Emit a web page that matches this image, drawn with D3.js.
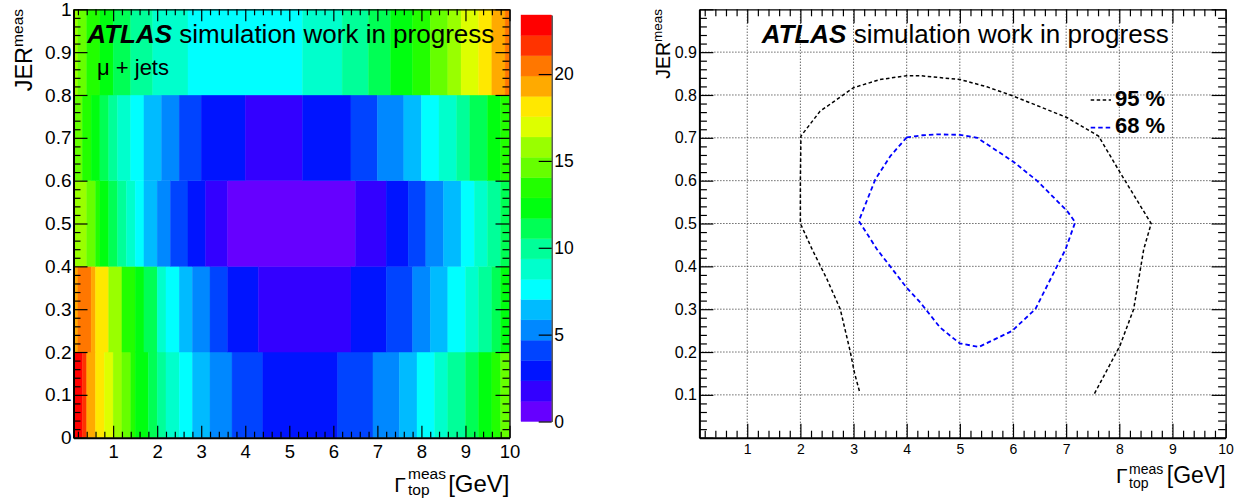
<!DOCTYPE html>
<html><head><meta charset="utf-8">
<script src="https://cdn.jsdelivr.net/npm/d3@7"></script>
<style>
body{margin:0;background:#fff}
svg{display:block}
text{font-family:"Liberation Sans",Arial,Helvetica,sans-serif;white-space:pre}
</style>
</head><body>
<svg id="c" width="1243" height="502"></svg>
<script>
// ---------------- data ----------------
const yBins = [0, 0.2, 0.4, 0.6, 0.8, 1.0];
// row y 0.0-0.2
const row0Edges = [0.1,0.3,0.4,0.6,0.8,1.0,1.2,1.4,1.5,1.8,2.0,2.2,2.5,2.8,3.2,3.7,4.4,6.1,6.9,7.5,7.9,8.3,8.6,9.0,9.3,9.6,9.8,10];
const row0Values = [22.8,21.6,19.3,18.1,17.0,15.8,14.6,13.5,12.3,11.1,9.9,8.8,7.6,6.4,5.3,4.1,2.9,4.1,5.3,6.4,7.6,8.8,9.9,11.1,12.3,13.5,14.6];
// row y 0.2-0.4
const row1Edges = [0.1,0.2,0.5,0.6,0.9,1.2,1.5,1.7,2.0,2.2,2.5,2.8,3.2,3.6,4.3,6.4,7.2,7.8,8.2,8.6,9.0,9.3,9.6,9.8,10];
const row1Values = [19.3,20.5,19.3,18.1,15.8,13.5,12.3,11.1,8.8,7.6,6.4,5.3,4.1,2.9,1.8,2.9,4.1,5.3,6.4,7.6,8.8,9.9,11.1,12.3];
// row y 0.4-0.6
const row2Edges = [0.1,0.4,0.6,0.7,0.9,1.1,1.3,1.5,1.7,2.0,2.3,2.7,3.1,3.6,6.5,7.2,7.7,8.1,8.5,8.9,9.2,9.5,9.8,10];
const row2Values = [15.8,14.6,13.5,12.3,11.1,9.9,8.8,7.6,6.4,5.3,4.1,2.9,1.8,0.6,1.8,2.9,4.1,5.3,6.4,7.6,8.8,9.9,11.1];
// row y 0.6-0.8
const row3Edges = [0.1,0.3,0.5,0.7,0.9,1.1,1.4,1.7,2.1,2.5,3.0,4.0,5.3,6.4,7.0,7.6,8.0,8.4,8.8,9.1,9.5,9.8,10];
const row3Values = [14.6,13.5,12.3,11.1,9.9,8.8,7.6,6.4,5.3,4.1,2.9,1.8,2.9,4.1,5.3,6.4,7.6,8.8,9.9,11.1,12.3,13.5];
// row y 0.8-1.0
const row4Edges = [0.1,0.2,0.4,0.7,1.0,1.4,1.9,2.7,5.3,6.2,6.8,7.3,7.8,8.2,8.6,8.9,9.3,9.6,9.9,10];
const row4Values = [15.8,14.6,13.5,12.3,11.1,9.9,8.8,7.6,8.8,9.9,11.1,12.3,13.5,14.6,15.8,17.0,18.1,19.3,20.5];

const zMax = 23.4;
const colorbarTicks = [0, 5, 10, 15, 20];
const palette = ["#6600ff","#3300ff","#0014ff","#0044ff","#0088ff","#00bbff","#00ffff","#00ffcc","#00ff99","#00ff55",
                 "#00ff10","#22ff00","#66ff00","#99ff00","#ddff00","#ffe800","#ffaa00","#ff7700","#ff3300","#ff0000"];

// contours (x = Gamma_top^meas, y = JER^meas)
const cont95X = [3.11,3.02,2.94,2.75,2.5,2.22,2.0,2.0,2.01,2.37,3.0,3.5,4.0,4.26,5.01,5.51,5.95,6.46,7.02,7.61,8.02,8.55,8.6,8.46,8.27,8.01,7.52];
const cont95Y = [0.109,0.15,0.2,0.30,0.37,0.44,0.5,0.6,0.704,0.762,0.817,0.836,0.845,0.845,0.836,0.819,0.80,0.775,0.747,0.704,0.618,0.51,0.5,0.44,0.30,0.214,0.10];
const cont68X = [4.0,3.69,3.41,3.1,3.44,4.0,4.26,4.63,5.0,5.36,5.98,6.42,6.99,7.17,7.02,6.46,6.02,5.33,5.0,4.57,4.3,4.0];
const cont68Y = [0.701,0.657,0.603,0.506,0.44,0.35,0.315,0.257,0.22,0.212,0.249,0.30,0.44,0.503,0.529,0.599,0.643,0.70,0.707,0.708,0.706,0.701];

const xMajorTicks = [1,2,3,4,5,6,7,8,9,10];
const yMajorTicksLeft = [0,0.1,0.2,0.3,0.4,0.5,0.6,0.7,0.8,0.9,1];
const yMajorTicksRight = [0.1,0.2,0.3,0.4,0.5,0.6,0.7,0.8,0.9];

// ---------------- drawing ----------------
const FONT = '"Liberation Sans", Arial, Helvetica, sans-serif';
const svg = d3.select("#c");
const rows = [
  {e: row0Edges, v: row0Values}, {e: row1Edges, v: row1Values}, {e: row2Edges, v: row2Values},
  {e: row3Edges, v: row3Values}, {e: row4Edges, v: row4Values}
];
const color = d3.scaleQuantize().domain([0, zMax]).range(palette);

const xMinor = d3.range(1, 50).map(i => i / 5).filter(v => Math.abs(v - Math.round(v)) > 1e-6);
const yMinor = d3.range(0, 51).map(i => i / 50).filter(v => Math.abs(v * 10 - Math.round(v * 10)) > 1e-6);
const yMajorAll = d3.range(0, 11).map(i => i / 10);

function frameAxes(g, x, y, cfg) {
  const [xa, xb] = x.range(), [ya, yb] = y.range();
  // bottom
  const b = g.append("g").attr("transform", `translate(0,${ya})`)
    .call(d3.axisBottom(x).tickValues(xMajorTicks).tickSize(-cfg.xMaj).tickSizeOuter(0).tickPadding(cfg.xPad).tickFormat(d3.format("d")));
  b.attr("font-family", FONT).attr("font-size", cfg.xFont);
  b.select(".domain").attr("stroke-width", 2);
  b.selectAll(".tick line").attr("stroke-width", 1.2);
  g.append("g").attr("transform", `translate(0,${ya})`)
    .call(d3.axisBottom(x).tickValues(xMinor).tickSize(-cfg.xMin).tickSizeOuter(0).tickFormat(() => ""))
    .call(s => s.select(".domain").remove()).selectAll(".tick line").attr("stroke-width", 1.2);
  // top
  const t = g.append("g").attr("transform", `translate(0,${yb})`)
    .call(d3.axisTop(x).tickValues(xMajorTicks).tickSize(-cfg.xMaj).tickSizeOuter(0).tickFormat(() => ""));
  t.select(".domain").attr("stroke-width", 1.3);
  t.selectAll(".tick line").attr("stroke-width", 1.2);
  g.append("g").attr("transform", `translate(0,${yb})`)
    .call(d3.axisTop(x).tickValues(xMinor).tickSize(-cfg.xMin).tickSizeOuter(0).tickFormat(() => ""))
    .call(s => s.select(".domain").remove()).selectAll(".tick line").attr("stroke-width", 1.2);
  // left
  const l = g.append("g").attr("transform", `translate(${xa},0)`)
    .call(d3.axisLeft(y).tickValues(yMajorAll).tickSize(-cfg.yMaj).tickSizeOuter(0).tickPadding(cfg.yPad)
      .tickFormat(d => cfg.yLabels.some(v => Math.abs(v - d) < 1e-9) ? ((d === 0 || d === 1) ? String(d) : d.toFixed(1)) : ""));
  l.attr("font-family", FONT).attr("font-size", cfg.yFont);
  l.select(".domain").attr("stroke-width", 2);
  l.selectAll(".tick line").attr("stroke-width", 1.2);
  g.append("g").attr("transform", `translate(${xa},0)`)
    .call(d3.axisLeft(y).tickValues(yMinor).tickSize(-cfg.yMin).tickSizeOuter(0).tickFormat(() => ""))
    .call(s => s.select(".domain").remove()).selectAll(".tick line").attr("stroke-width", 1.2);
  // right
  const r = g.append("g").attr("transform", `translate(${xb},0)`)
    .call(d3.axisRight(y).tickValues(yMajorAll).tickSize(-cfg.yMaj).tickSizeOuter(0).tickFormat(() => ""));
  r.select(".domain").attr("stroke-width", 1.3);
  r.selectAll(".tick line").attr("stroke-width", 1.2);
  g.append("g").attr("transform", `translate(${xb},0)`)
    .call(d3.axisRight(y).tickValues(yMinor).tickSize(-cfg.yMin).tickSizeOuter(0).tickFormat(() => ""))
    .call(s => s.select(".domain").remove()).selectAll(".tick line").attr("stroke-width", 1.2);
}

function atlasLabel(x, y) {
  const t = svg.append("text").attr("x", x).attr("y", y).attr("font-size", 26).attr("fill", "#000");
  t.append("tspan").attr("font-weight", "bold").attr("font-style", "italic").text("ATLAS");
  t.append("tspan").text(" simulation work in progress");
}

function xTitle(gx, base, gSize, supX, supBase, subBase, sSize, endX, gevSize) {
  svg.append("text").attr("x", gx).attr("y", base).attr("font-size", gSize).text("\u0393");
  svg.append("text").attr("x", supX).attr("y", supBase).attr("font-size", sSize).text("meas");
  svg.append("text").attr("x", supX).attr("y", subBase).attr("font-size", sSize).text("top");
  svg.append("text").attr("x", endX).attr("y", base).attr("font-size", gevSize).attr("text-anchor", "end").text("[GeV]");
}

function yTitle(bx, topY, size, supSize, supShift) {
  const t = svg.append("text").attr("transform", `translate(${bx},${topY}) rotate(-90)`)
    .attr("text-anchor", "end").attr("font-size", size);
  t.append("tspan").text("JER");
  t.append("tspan").attr("font-size", supSize).attr("dy", -supShift).text("meas");
}

// ===== Left panel: heat map =====
const xL = d3.scaleLinear().domain([0.1, 10]).range([73.5, 509.5]);
const yL = d3.scaleLinear().domain([0, 1]).range([437.7, 9.3]);
const gL = svg.append("g");
rows.forEach((row, i) => {
  row.v.forEach((val, j) => {
    gL.append("rect")
      .attr("x", xL(row.e[j])).attr("width", xL(row.e[j + 1]) - xL(row.e[j]))
      .attr("y", yL(yBins[i + 1])).attr("height", yL(yBins[i]) - yL(yBins[i + 1]))
      .attr("fill", color(val)).attr("stroke", color(val)).attr("stroke-width", 0.4);
  });
});
frameAxes(gL, xL, yL, {xMaj: 12, xMin: 6, yMaj: 14, yMin: 7, xPad: 7.5, yPad: 2, xFont: 18.5, yFont: 19, yLabels: yMajorTicksLeft});

// colour bar
const cb = d3.scaleLinear().domain([0, zMax]).range([421.5, 15]);
const gC = svg.append("g");
palette.forEach((c, i) => {
  const lo = i * zMax / palette.length, hi = (i + 1) * zMax / palette.length;
  gC.append("rect").attr("x", 521).attr("width", 30.7).attr("y", cb(hi)).attr("height", cb(lo) - cb(hi))
    .attr("fill", c).attr("stroke", c).attr("stroke-width", 0.4);
});
const ca = gC.append("g").attr("transform", "translate(551.7,0)")
  .call(d3.axisRight(cb).tickValues(colorbarTicks).tickSize(-13).tickSizeOuter(0).tickPadding(2.5));
ca.attr("font-family", FONT).attr("font-size", 17.5);
ca.select(".domain").attr("stroke", "#333").attr("stroke-width", 1.2);
ca.selectAll(".tick line").attr("stroke-width", 1.2);

atlasLabel(87.3, 42.7);
svg.append("text").attr("x", 97).attr("y", 75).attr("font-size", 22).text("\u03bc + jets");
xTitle(394.3, 491.7, 21, 408, 479.3, 495, 15.5, 509.5, 24);
yTitle(32, 9, 23.5, 15.5, 9.3);

// ===== Right panel: contours =====
const xR = d3.scaleLinear().domain([0.1, 10]).range([699.4, 1225.6]);
const yR = d3.scaleLinear().domain([0, 1]).range([437.7, 9.3]);
const gR = svg.append("g");
// grid
gR.selectAll(".gx").data(xMajorTicks.filter(v => v < 10)).enter().append("line")
  .attr("x1", d => xR(d)).attr("x2", d => xR(d)).attr("y1", yR(0)).attr("y2", yR(1))
  .attr("stroke", "#222").attr("stroke-width", 1).attr("stroke-dasharray", "1,2");
gR.selectAll(".gy").data(yMajorTicksRight).enter().append("line")
  .attr("x1", xR(0.1)).attr("x2", xR(10)).attr("y1", d => yR(d)).attr("y2", d => yR(d))
  .attr("stroke", "#222").attr("stroke-width", 1).attr("stroke-dasharray", "1,2");

const line = d3.line().x(d => xR(d[0])).y(d => yR(d[1]));
gR.append("path").attr("d", line(cont95X.map((v, i) => [v, cont95Y[i]])))
  .attr("fill", "none").attr("stroke", "#000").attr("stroke-width", 1.5).attr("stroke-dasharray", "3.5,2.5");
gR.append("path").attr("d", line(cont68X.map((v, i) => [v, cont68Y[i]])))
  .attr("fill", "none").attr("stroke", "#0000ff").attr("stroke-width", 1.8).attr("stroke-dasharray", "4.5,3");

frameAxes(gR, xR, yR, {xMaj: 14, xMin: 7, yMaj: 14, yMin: 7.5, xPad: 6.5, yPad: 2.5, xFont: 14, yFont: 16, yLabels: yMajorTicksRight});

atlasLabel(761.7, 42.7);
// legend
const legend = [{label: "95 %", color: "#000", w: 1.5, dash: "3.5,2.5", y: 100, base: 106.3},
                {label: "68 %", color: "#0000ff", w: 1.8, dash: "4.5,3", y: 127.7, base: 133.3}];
legend.forEach(d => {
  svg.append("line").attr("x1", 1090.7).attr("x2", 1111).attr("y1", d.y).attr("y2", d.y)
    .attr("stroke", d.color).attr("stroke-width", d.w).attr("stroke-dasharray", d.dash);
  svg.append("text").attr("x", 1115).attr("y", d.base).attr("font-size", 22).attr("font-weight", "bold").text(d.label);
});
xTitle(1116, 483.3, 21, 1129, 473.5, 487.5, 14, 1225.6, 23);
yTitle(670, 9, 19.5, 13.5, 8.5);
</script>
</body></html>
